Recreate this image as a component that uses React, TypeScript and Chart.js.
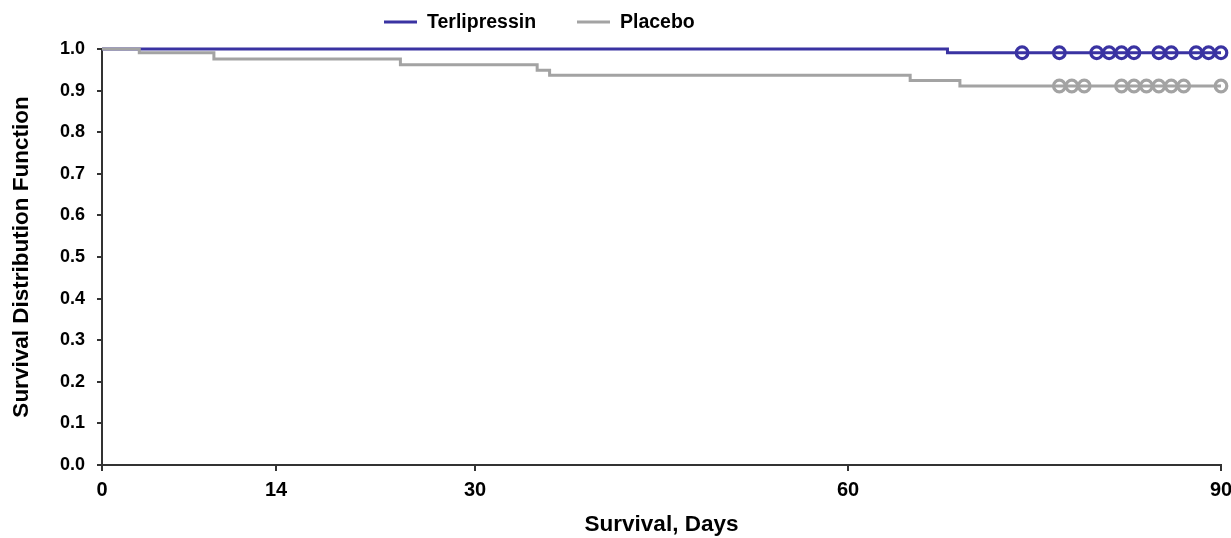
import React, { useEffect, useRef } from "react";
import { Chart, registerables } from "chart.js";

Chart.register(...registerables);

// Kaplan–Meier steps: day of each event and the survival estimate after it
const terliEventDays = [0, 68, 90];
const terliSurvival = [1.0, 0.991, 0.991];
const terliCensorDays = [74, 77, 80, 81, 82, 83, 85, 86, 88, 89, 90];

const placeboEventDays = [0, 3, 9, 24, 35, 36, 65, 69, 90];
const placeboSurvival = [1.0, 0.991, 0.976, 0.962, 0.949, 0.937, 0.924, 0.911, 0.911];
const placeboCensorDays = [77, 78, 79, 82, 83, 84, 85, 86, 87, 90];

const xTickValues = [0, 14, 30, 60, 90];

const seriesNames = ["Terlipressin", "Placebo"];
const seriesColors = ["#3a33a2", "#a3a3a3"];

const FONT = '"Liberation Sans", Arial, Helvetica, sans-serif';

// survival level in effect on a given day
function levelAt(days: number[], surv: number[], day: number): number {
  let s = surv[0];
  for (let i = 0; i < days.length; i++) {
    if (days[i] <= day) s = surv[i];
  }
  return s;
}

function steps(days: number[], surv: number[]) {
  return days.map((d, i) => ({ x: d, y: surv[i] }));
}

function censors(censorDays: number[], days: number[], surv: number[]) {
  return censorDays.map((d) => ({ x: d, y: levelAt(days, surv, d) }));
}

// legend drawn above the plot: short line + bold label for each series
const topLegend = {
  id: "topLegend",
  afterDraw(chart: any) {
    const ctx = chart.ctx;
    const y = 22;
    const starts = [384, 577];
    ctx.save();
    ctx.font = `bold 19.5px ${FONT}`;
    ctx.textBaseline = "middle";
    ctx.textAlign = "left";
    seriesNames.forEach((name, i) => {
      const x = starts[i];
      ctx.strokeStyle = seriesColors[i];
      ctx.lineWidth = 3;
      ctx.beginPath();
      ctx.moveTo(x, y);
      ctx.lineTo(x + 33, y);
      ctx.stroke();
      ctx.fillStyle = "#000";
      ctx.fillText(name, x + 43, y + 1);
    });
    ctx.restore();
  },
};

export default function App() {
  const canvasRef = useRef<HTMLCanvasElement | null>(null);

  useEffect(() => {
    if (!canvasRef.current) return;
    const lineBase = {
      stepped: true as const,
      borderWidth: 3,
      pointRadius: 0,
      fill: false,
      clip: false as const,
    };
    const markBase = {
      showLine: false,
      pointStyle: "circle" as const,
      pointRadius: 5.8,
      pointBorderWidth: 3.2,
      pointBackgroundColor: "rgba(0,0,0,0)",
      clip: false as const,
    };
    const chart = new Chart(canvasRef.current, {
      type: "line",
      data: {
        datasets: [
          {
            ...lineBase,
            label: seriesNames[1],
            data: steps(placeboEventDays, placeboSurvival),
            borderColor: seriesColors[1],
          },
          {
            ...markBase,
            label: seriesNames[1] + " censored",
            data: censors(placeboCensorDays, placeboEventDays, placeboSurvival),
            pointBorderColor: seriesColors[1],
            borderColor: seriesColors[1],
          },
          {
            ...lineBase,
            label: seriesNames[0],
            data: steps(terliEventDays, terliSurvival),
            borderColor: seriesColors[0],
          },
          {
            ...markBase,
            label: seriesNames[0] + " censored",
            data: censors(terliCensorDays, terliEventDays, terliSurvival),
            pointBorderColor: seriesColors[0],
            borderColor: seriesColors[0],
          },
        ],
      },
      options: {
        animation: false,
        responsive: true,
        maintainAspectRatio: false,
        events: [],
        layout: { padding: { top: 49, right: 10, left: 0, bottom: 0 } },
        plugins: {
          legend: { display: false },
          tooltip: { enabled: false },
        },
        scales: {
          x: {
            type: "linear",
            min: 0,
            max: 90,
            afterBuildTicks: (scale: any) => {
              scale.ticks = xTickValues.map((v) => ({ value: v }));
            },
            afterFit: (scale: any) => {
              scale.height = 73;
              scale.paddingLeft = 0;
              scale.paddingRight = 0;
            },
            ticks: {
              autoSkip: false,
              maxRotation: 0,
              color: "#000",
              padding: 7,
              font: { family: FONT, size: 20, weight: "bold" },
              callback: (v: any) => String(v),
            },
            grid: {
              drawOnChartArea: false,
              drawTicks: true,
              tickLength: 6,
              color: "#333",
              lineWidth: 2,
            },
            border: { color: "#333", width: 2 },
            title: {
              display: true,
              text: "Survival, Days",
              color: "#000",
              font: { family: FONT, size: 22.5, weight: "bold" },
              padding: { top: 0, bottom: 0 },
            },
          },
          y: {
            type: "linear",
            min: 0,
            max: 1,
            afterFit: (scale: any) => {
              scale.width = 102;
              scale.paddingTop = 0;
              scale.paddingBottom = 0;
            },
            ticks: {
              stepSize: 0.1,
              color: "#000",
              padding: 12,
              font: { family: FONT, size: 18, weight: "bold" },
              callback: (v: any) => Number(v).toFixed(1),
            },
            grid: {
              drawOnChartArea: false,
              drawTicks: true,
              tickLength: 5,
              color: "#333",
              lineWidth: 2,
            },
            border: { color: "#333", width: 2 },
            title: {
              display: true,
              text: "Survival Distribution Function",
              color: "#000",
              font: { family: FONT, size: 22.5, weight: "bold" },
              padding: { top: 8, bottom: 0 },
            },
          },
        },
      },
      plugins: [topLegend],
    });
    return () => chart.destroy();
  }, []);

  return (
    <div
      style={{
        position: "fixed",
        left: 0,
        top: 0,
        width: 1231,
        height: 538,
        background: "#fff",
      }}
    >
      <canvas ref={canvasRef} />
    </div>
  );
}
